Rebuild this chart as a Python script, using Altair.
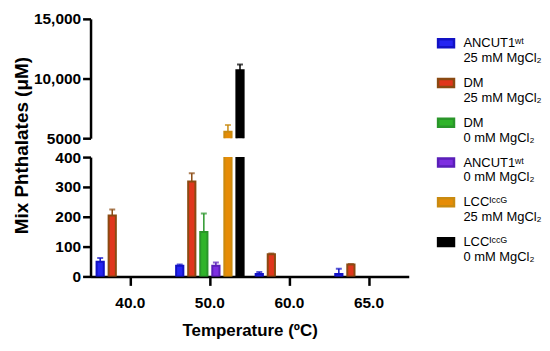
import altair as alt
import pandas as pd

temps = ["40.0", "50.0", "60.0", "65.0"]
series_names = [
    "ANCUT1ʷᵗ|25 mM MgCl₂",
    "DM|25 mM MgCl₂",
    "DM|0 mM MgCl₂",
    "ANCUT1ʷᵗ|0 mM MgCl₂",
    "LCCᴵᶜᶜᴳ|25 mM MgCl₂",
    "LCCᴵᶜᶜᴳ|0 mM MgCl₂",
]
fill_colors = ["#2424f2", "#e0361c", "#30b42a", "#7d2ee0", "#e68c06", "#000000"]
stroke_colors = ["#1212c4", "#8a4a12", "#2a962a", "#5a1fb8", "#c98a10", "#000000"]

ancut25 = [49, 36, 8, 8]
ancut25_err = [13, 4, 7, 18]
dm25 = [204, 318, 74, 40]
dm25_err = [20, 28, 3, 2]
dm0 = [None, 149, None, None]
dm0_err = [None, 62, None, None]
ancut0 = [None, 36, None, None]
ancut0_err = [None, 11, None, None]
lcc25 = [None, 5550, None, None]
lcc25_err = [None, 560, None, None]
lcc0 = [None, 10690, None, None]
lcc0_err = [None, 480, None, None]

all_vals = [ancut25, dm25, dm0, ancut0, lcc25, lcc0]
all_errs = [ancut25_err, dm25_err, dm0_err, ancut0_err, lcc25_err, lcc0_err]

rows = []
for s, vals, errs in zip(series_names, all_vals, all_errs):
    for t, v, e in zip(temps, vals, errs):
        if v is None:
            continue
        rows.append({"temp": t, "series": s, "value": v, "top": v + e})
df = pd.DataFrame(rows)

FONT = "Liberation Sans"

x_enc_upper = alt.X("temp:N", sort=temps, scale=alt.Scale(domain=temps, paddingInner=0, paddingOuter=0), axis=None)
x_enc_lower = alt.X(
    "temp:N", sort=temps,
    scale=alt.Scale(domain=temps, paddingInner=0, paddingOuter=0),
    axis=alt.Axis(title="Temperature (ºC)", labelAngle=0, tickSize=9, tickWidth=2.5,
                  domainWidth=2.5, labelPadding=10, titlePadding=12,
                  labelFont=FONT, labelFontSize=15.5, labelFontWeight="bold",
                  titleFont=FONT, titleFontSize=17, titleFontWeight="bold"),
)
xoff = alt.XOffset("series:N", sort=series_names,
                   scale=alt.Scale(domain=series_names, paddingInner=0.4, paddingOuter=0.5))

legend_kw = dict(title=None, orient="none", legendX=348, legendY=15,
                 labelExpr="split(datum.label, '|')",
                 symbolType="M-1,-0.5H1V0.5H-1Z", symbolSize=256,
                 symbolStrokeWidth=2.5, labelFont=FONT,
                 labelFontSize=13, labelOffset=8, rowPadding=8,
                 labelColor="black")
fill = alt.Fill("series:N", scale=alt.Scale(domain=series_names, range=fill_colors),
                legend=alt.Legend(**legend_kw))
stroke = alt.Stroke("series:N", scale=alt.Scale(domain=series_names, range=stroke_colors),
                    legend=None)
err_color = alt.Stroke("series:N", scale=alt.Scale(domain=series_names, range=stroke_colors), legend=None)
cap_color = alt.Color("series:N", scale=alt.Scale(domain=series_names, range=stroke_colors), legend=None)


def panel(domain, x_enc, y_axis, flt, h):
    y_scale = alt.Scale(domain=domain, nice=False, zero=False)
    base = alt.Chart(df).transform_filter(flt)
    bars = base.mark_bar(strokeWidth=2, clip=True).encode(
        x=x_enc, xOffset=xoff,
        y=alt.Y("value:Q", scale=y_scale, axis=y_axis),
        fill=fill, stroke=stroke,
    )
    err = base.mark_rule(strokeWidth=1.5, clip=True).encode(
        x=x_enc, xOffset=xoff,
        y=alt.Y("value:Q", scale=y_scale, axis=y_axis), y2="top:Q",
        stroke=err_color,
    )
    cap = base.mark_tick(thickness=2, size=6, clip=True).encode(
        x=x_enc, xOffset=xoff,
        y=alt.Y("top:Q", scale=y_scale, axis=y_axis),
        color=cap_color,
    )
    return alt.layer(bars, err, cap).properties(width=320, height=h)


upper_axis = alt.Axis(title=None, values=[5000, 10000, 15000],
                      labelExpr="datum.value == 5000 ? '5000' : format(datum.value, ',')",
                      tickSize=8, tickWidth=2.5, domainWidth=2.5, labelPadding=2,
                      labelFont=FONT, labelFontSize=15.5, labelFontWeight="bold",
                      grid=False, labelOverlap=False)
lower_axis = alt.Axis(title="Mix Phthalates (μM)", values=[0, 100, 200, 300, 400],
                      tickSize=8, tickWidth=2.5, domainWidth=2.5, labelPadding=2,
                      labelFont=FONT, labelFontSize=15.5, labelFontWeight="bold",
                      grid=False, labelOverlap=False,
                      titleFont=FONT, titleFontSize=19, titleFontWeight="bold",
                      titleX=-59, titleY=-12)

upper = panel([5000, 15000], x_enc_upper, upper_axis, "datum.value >= 5000", 120)
lower = panel([0, 400], x_enc_lower, lower_axis, "datum.value >= 0", 120)

chart = alt.vconcat(upper, lower, spacing=19, bounds="flush").resolve_scale(
    fill="shared", stroke="shared", color="shared"
).configure_view(stroke=None).configure_axis(
    domainColor="black", tickColor="black", labelColor="black", titleColor="black"
).properties(padding={"left": 5, "right": 0, "top": 3, "bottom": 0})

chart.save("out.html", embed_options={"renderer": "svg", "actions": False})
